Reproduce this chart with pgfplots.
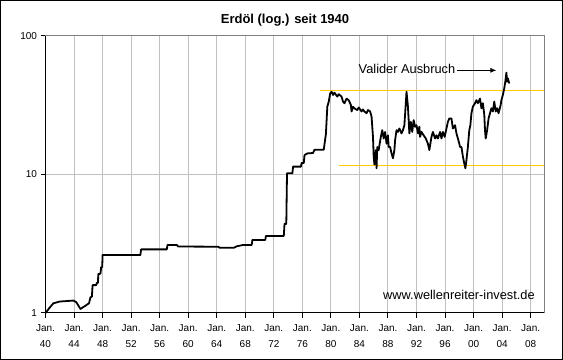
\documentclass[border=0pt]{standalone}
\usepackage{fontspec}
\setmainfont{Liberation Sans}
\usepackage{pgfplots}
\pgfplotsset{compat=1.18}
\usetikzlibrary{arrows.meta}
\definecolor{gridgray}{HTML}{C0C0C0}
\definecolor{bordergray}{HTML}{808080}
\definecolor{lineyellow}{HTML}{FFCC00}
\begin{document}
\begin{tikzpicture}
\useasboundingbox (0,0) rectangle (563bp,360bp);
\fill[white] (0,0) rectangle (563bp,360bp);
\draw[line width=1bp,black] (0.5bp,0.5bp) rectangle (562.5bp,359.5bp);
\node[font=\fontsize{13bp}{15bp}\selectfont\bfseries] at (285bp,339.5bp) {Erdöl (log.) seit 1940};
\begin{axis}[
  at={(45.5bp,47bp)}, anchor=south west,
  scale only axis, width=498.5bp, height=277bp,
  xmin=1940, xmax=2009.87, ymin=1, ymax=100,
  ymode=log, log basis y=10, yminorticks=false,
  xtick={1940,1944,...,2008},
  xticklabels={{Jan.\\40},{Jan.\\44},{Jan.\\48},{Jan.\\52},{Jan.\\56},{Jan.\\60},{Jan.\\64},{Jan.\\68},{Jan.\\72},{Jan.\\76},{Jan.\\80},{Jan.\\84},{Jan.\\88},{Jan.\\92},{Jan.\\96},{Jan.\\00},{Jan.\\04},{Jan.\\08}},
  ytick={1,10,100}, yticklabels={1,10,100},
  /pgf/number format/assume math mode=true,
  xticklabel style={align=center, font=\fontsize{10bp}{15.5bp}\selectfont, yshift=-3.5bp},
  yticklabel style={font=\fontsize{10bp}{12bp}\selectfont},
  tick align=outside, major tick length=5bp,
  xtick pos=bottom, ytick pos=left,
  tick style={black, line width=1bp},
  grid=major, major grid style={gridgray, line width=1bp},
  axis line style={bordergray, line width=1bp},
  clip=false,
]
% left and bottom axis lines in black
\draw[black, line width=1bp] (rel axis cs:0,1) -- (rel axis cs:0,0) -- (rel axis cs:1,0);
% yellow resistance/support lines
\addplot[lineyellow, line width=1.2bp] coordinates {(1978.5,40.6) (2009.87,40.6)};
\addplot[lineyellow, line width=1.2bp] coordinates {(1981.1,11.65) (2009.87,11.65)};
% oil price
\addplot[black, line width=1.8bp, line join=round] coordinates {
(1940,1.0) (1940.5,1.08) (1941.1,1.175) (1942.0,1.21) (1943.0,1.22) (1943.9,1.23)
(1944.3,1.2) (1944.9,1.07) (1945.5,1.12) (1946.1,1.175) (1946.3,1.3) (1946.5,1.31)
(1946.6,1.59) (1947.1,1.59) (1947.2,1.65) (1947.35,1.65) (1947.4,1.91) (1947.7,1.92)
(1947.8,2.14) (1947.95,2.14) (1948.0,2.62) (1953.3,2.62) (1953.4,2.88) (1957.0,2.88)
(1957.1,3.10) (1958.4,3.10) (1958.6,3.02) (1964.2,3.01) (1964.4,2.96) (1966.4,2.96)
(1966.8,3.03) (1967.7,3.1) (1968.9,3.1) (1969.0,3.37) (1970.8,3.37) (1970.9,3.6)
(1973.4,3.6) (1973.5,4.4) (1973.75,4.4) (1973.85,10.2) (1974.6,10.2) (1974.7,11.4)
(1975.8,11.4) (1975.9,12.1) (1976.2,12.1) (1976.3,13.8) (1976.7,14.2) (1977.5,14.3)
(1977.7,15.1) (1979.0,15.1) (1979.3,19.6) (1979.5,30.9) (1979.7,33.6) (1979.9,38.5)
(1980.1,39.6) (1980.3,37.5) (1980.5,39) (1980.9,36.5) (1981.1,38) (1981.5,36.5)
(1981.7,33.6) (1981.9,32.7) (1982.2,35.3) (1982.5,34.4) (1982.8,31.8) (1982.9,28.5)
(1983.1,30.9) (1983.3,30) (1983.7,29.2) (1983.9,30.5) (1984.3,28.5) (1984.5,29.5)
(1984.7,28.5) (1985.0,27.7) (1985.2,29.2) (1985.5,28.5) (1985.7,26.2) (1985.9,18.7)
(1986.0,13.5) (1986.1,11.8) (1986.3,15) (1986.4,11.1) (1986.5,15.8) (1986.7,15)
(1986.8,16.2) (1987.0,18.7) (1987.2,20.9) (1987.4,18.2) (1987.6,20.3) (1987.8,16.7)
(1988.0,19.2) (1988.1,15.8) (1988.3,15.8) (1988.5,14.2) (1988.7,13.1) (1988.9,15)
(1989.0,17.7) (1989.2,20.9) (1989.4,20.3) (1989.6,21.5) (1989.9,19.8) (1990.1,20.9)
(1990.3,22.7) (1990.5,32.7) (1990.6,39.6) (1990.8,30.9) (1990.9,24.7) (1991.0,19.8)
(1991.2,24) (1991.4,20.3) (1991.6,24.7) (1991.8,22.1) (1992.0,22.7) (1992.2,19.8)
(1992.4,22.1) (1992.5,18.7) (1992.7,20.3) (1993.0,19.2) (1993.3,18.2) (1993.6,16.7)
(1993.8,15) (1993.9,16.2) (1994.1,18.7) (1994.3,20.3) (1994.6,18.2) (1994.8,19.2)
(1995.0,18.2) (1995.3,20.3) (1995.5,18.2) (1995.7,20.3) (1995.95,18.7) (1996.2,21.5)
(1996.4,24) (1996.6,25.4) (1996.9,25.4) (1997.1,21.5) (1997.4,22.7) (1997.6,19.8)
(1997.8,18.2) (1998.0,16.7) (1998.1,15.8) (1998.3,15.8) (1998.5,13.5) (1998.7,12)
(1998.85,11.1) (1999.0,12.7) (1999.2,15.8) (1999.4,20.9) (1999.55,22.7) (1999.7,27.7)
(1999.9,30.9) (2000.2,32.7) (2000.4,34.4) (2000.6,32.7) (2000.9,35.3) (2001.1,30.1)
(2001.3,32.7) (2001.5,27) (2001.6,20.9) (2001.7,18.2) (2001.9,20.9) (2002.1,25.4)
(2002.3,27.7) (2002.5,30.1) (2002.7,28.5) (2002.9,33.6) (2003.1,28.5) (2003.3,30.1)
(2003.5,27.7) (2003.8,31.8) (2003.9,34.4) (2004.1,37.5) (2004.3,41.9) (2004.45,47)
(2004.6,54.4) (2004.7,46.8) (2004.8,49.5) (2005.0,45.4)
};
\draw[-{Latex[length=6bp,width=5bp]}, black, line width=0.8bp] (axis cs:1997.7,56.5) -- (axis cs:2003.2,56.5);
\node[anchor=east, font=\fontsize{12.8bp}{15bp}\selectfont, inner sep=1bp] at (axis cs:1997.6,57.5) {Valider Ausbruch};
\node[anchor=east, font=\fontsize{12.8bp}{15bp}\selectfont, inner sep=0pt] at (axis cs:2008.6,1.35) {www.wellenreiter-invest.de};
\end{axis}
\end{tikzpicture}
\end{document}
